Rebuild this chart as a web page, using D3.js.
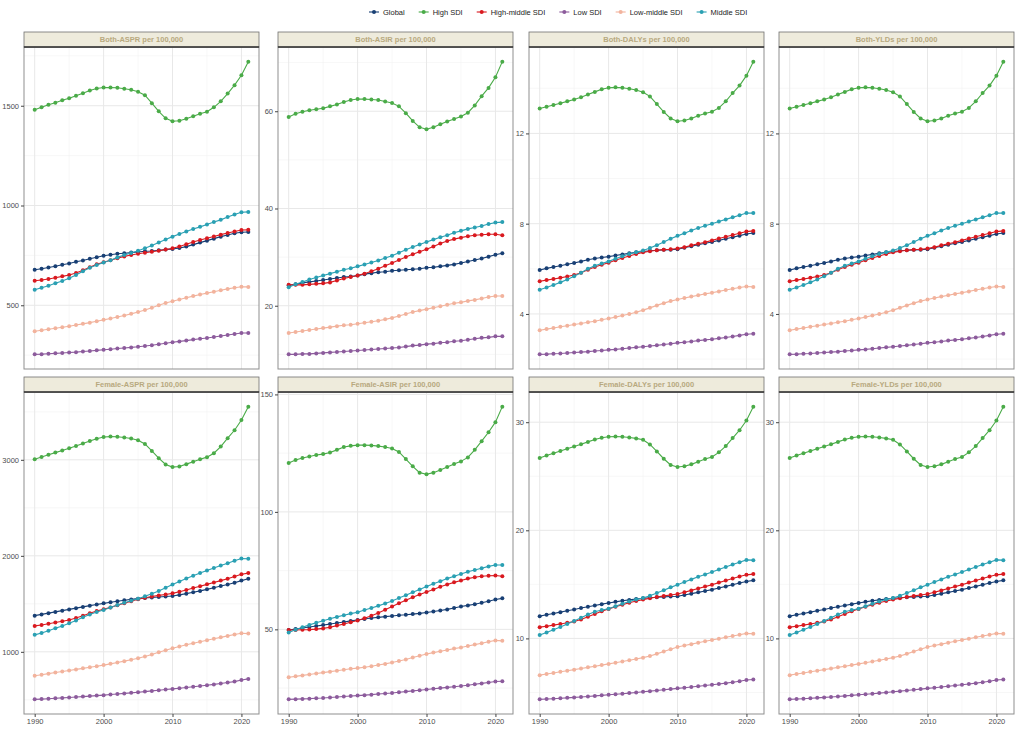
<!DOCTYPE html>
<html>
<head>
<meta charset="utf-8">
<script src="https://cdn.jsdelivr.net/npm/d3@7"></script>
<style>
  body { margin: 0; background: #fff; }
  svg text { font-family: "Liberation Sans Narrow", "Liberation Sans", Arial, sans-serif; }
</style>
</head>
<body>
<div id="vis"></div>
<script>
// years on the x axis
var years = [1990, 1991, 1992, 1993, 1994, 1995, 1996, 1997, 1998, 1999,
  2000, 2001, 2002, 2003, 2004, 2005, 2006, 2007, 2008, 2009,
  2010, 2011, 2012, 2013, 2014, 2015, 2016, 2017, 2018, 2019, 2020, 2021];

var seriesNames = ['Global', 'High SDI', 'High-middle SDI', 'Low SDI', 'Low-middle SDI', 'Middle SDI'];

var panelTitles = ['Both-ASPR per 100,000', 'Both-ASIR per 100,000', 'Both-DALYs per 100,000', 'Both-YLDs per 100,000',
  'Female-ASPR per 100,000', 'Female-ASIR per 100,000', 'Female-DALYs per 100,000', 'Female-YLDs per 100,000'];

var xTicks = [1990, 2000, 2010, 2020];

// major y breaks of each panel
var yTicks = [[500, 1000, 1500], [20, 40, 60], [4, 8, 12], [4, 8, 12],
  [1000, 2000, 3000], [50, 100, 150], [10, 20, 30], [10, 20, 30]];

// series order: Global, High SDI, High-middle SDI, Low SDI, Low-middle SDI, Middle SDI
var bothASPR = [
  [678, 683, 689, 696, 703, 709, 718, 724, 733, 741, 748, 753, 758, 761, 764, 767, 771, 772, 776, 779, 782, 787, 794, 804, 814, 824, 834, 844, 852, 861, 866, 867],
  [1480, 1492, 1505, 1515, 1527, 1538, 1550, 1563, 1576, 1586, 1591, 1591, 1590, 1585, 1580, 1570, 1553, 1513, 1472, 1437, 1422, 1425, 1435, 1447, 1460, 1470, 1492, 1522, 1561, 1603, 1653, 1721],
  [623, 627, 632, 638, 645, 652, 662, 675, 690, 705, 716, 726, 736, 745, 752, 758, 763, 768, 773, 779, 786, 795, 806, 817, 827, 836, 845, 854, 862, 870, 877, 878],
  [254, 255, 257, 259, 261, 263, 265, 268, 271, 274, 277, 280, 283, 286, 289, 292, 296, 300, 305, 310, 315, 319, 323, 328, 332, 336, 341, 346, 351, 356, 361, 361],
  [370, 375, 380, 385, 390, 395, 401, 407, 413, 420, 427, 434, 441, 449, 457, 466, 476, 488, 500, 511, 520, 529, 538, 546, 554, 561, 568, 575, 582, 588, 593, 592],
  [578, 588, 598, 610, 622, 636, 652, 670, 688, 702, 714, 726, 740, 752, 762, 773, 786, 800, 815, 830, 844, 857, 870, 882, 893, 905, 917, 928, 942, 955, 966, 968]
];

var bothASIR = [
  [24.2, 24.4, 24.7, 24.9, 25.1, 25.3, 25.5, 25.7, 25.9, 26.0, 26.2, 26.5, 26.7, 26.9, 27.0, 27.2, 27.3, 27.4, 27.5, 27.6, 27.8, 27.9, 28.1, 28.3, 28.5, 28.8, 29.1, 29.4, 29.7, 30.1, 30.5, 30.8],
  [58.8, 59.5, 59.9, 60.2, 60.4, 60.6, 61.0, 61.4, 61.9, 62.3, 62.5, 62.5, 62.4, 62.3, 62.0, 61.7, 61.0, 59.6, 58.0, 56.7, 56.3, 56.7, 57.3, 57.9, 58.4, 58.9, 59.7, 61.2, 63.1, 64.8, 67.0, 70.2],
  [24.3, 24.3, 24.3, 24.4, 24.5, 24.6, 24.8, 25.2, 25.6, 25.9, 26.2, 26.6, 27.1, 27.6, 28.2, 28.8, 29.4, 30.0, 30.6, 31.1, 31.6, 32.2, 32.8, 33.3, 33.7, 34.0, 34.3, 34.5, 34.6, 34.7, 34.7, 34.5],
  [10.0, 10.0, 10.1, 10.1, 10.2, 10.3, 10.4, 10.5, 10.6, 10.7, 10.8, 10.9, 11.0, 11.1, 11.2, 11.3, 11.4, 11.6, 11.8, 11.9, 12.1, 12.2, 12.4, 12.5, 12.7, 12.8, 13.0, 13.2, 13.4, 13.5, 13.7, 13.7],
  [14.4, 14.6, 14.8, 15.0, 15.2, 15.4, 15.6, 15.8, 16.0, 16.1, 16.3, 16.5, 16.7, 16.9, 17.2, 17.5, 17.9, 18.3, 18.7, 19.0, 19.3, 19.6, 19.9, 20.2, 20.5, 20.7, 21.0, 21.2, 21.5, 21.8, 22.0, 22.0],
  [23.8, 24.4, 24.9, 25.4, 25.8, 26.2, 26.6, 27.0, 27.4, 27.7, 28.1, 28.5, 28.9, 29.3, 29.8, 30.3, 30.9, 31.5, 32.1, 32.6, 33.1, 33.6, 34.1, 34.5, 35.0, 35.4, 35.8, 36.1, 36.4, 36.8, 37.1, 37.2]
];

// DALYs and YLDs read the same in the picture
var bothDALY = [
  [5.95, 6.02, 6.08, 6.14, 6.20, 6.26, 6.33, 6.40, 6.46, 6.50, 6.54, 6.59, 6.64, 6.69, 6.73, 6.77, 6.80, 6.82, 6.84, 6.85, 6.87, 6.93, 7.00, 7.07, 7.13, 7.19, 7.26, 7.33, 7.40, 7.47, 7.54, 7.59],
  [13.10, 13.18, 13.26, 13.34, 13.42, 13.50, 13.60, 13.72, 13.84, 13.96, 14.02, 14.04, 14.02, 13.98, 13.92, 13.82, 13.64, 13.30, 12.95, 12.66, 12.54, 12.57, 12.66, 12.78, 12.88, 12.96, 13.13, 13.42, 13.79, 14.12, 14.56, 15.18],
  [5.45, 5.50, 5.55, 5.60, 5.66, 5.73, 5.83, 5.96, 6.08, 6.18, 6.27, 6.38, 6.48, 6.57, 6.66, 6.73, 6.78, 6.82, 6.85, 6.87, 6.90, 6.96, 7.04, 7.11, 7.18, 7.26, 7.34, 7.42, 7.50, 7.58, 7.65, 7.68],
  [2.21, 2.22, 2.24, 2.25, 2.27, 2.29, 2.31, 2.33, 2.36, 2.38, 2.41, 2.43, 2.46, 2.49, 2.52, 2.55, 2.58, 2.61, 2.65, 2.68, 2.72, 2.75, 2.78, 2.82, 2.85, 2.88, 2.92, 2.96, 3.00, 3.05, 3.10, 3.12],
  [3.28, 3.33, 3.38, 3.43, 3.48, 3.53, 3.58, 3.63, 3.68, 3.74, 3.80, 3.86, 3.93, 4.00, 4.08, 4.17, 4.27, 4.38, 4.48, 4.57, 4.64, 4.71, 4.77, 4.83, 4.89, 4.94, 5.00, 5.06, 5.12, 5.17, 5.22, 5.20],
  [5.07, 5.17, 5.28, 5.40, 5.53, 5.67, 5.83, 6.00, 6.14, 6.24, 6.33, 6.45, 6.56, 6.66, 6.73, 6.81, 6.92, 7.05, 7.19, 7.33, 7.46, 7.58, 7.70, 7.81, 7.91, 8.00, 8.10, 8.19, 8.28, 8.37, 8.47, 8.47]
];

var femaleASPR = [
  [1377, 1390, 1403, 1416, 1429, 1442, 1455, 1468, 1481, 1493, 1505, 1516, 1527, 1537, 1546, 1554, 1560, 1566, 1571, 1576, 1581, 1593, 1606, 1620, 1635, 1651, 1668, 1685, 1702, 1720, 1742, 1761],
  [3007, 3030, 3053, 3075, 3098, 3121, 3145, 3170, 3196, 3220, 3237, 3242, 3240, 3232, 3222, 3203, 3166, 3093, 3017, 2952, 2924, 2931, 2955, 2979, 3007, 3028, 3069, 3138, 3225, 3308, 3415, 3554],
  [1270, 1280, 1292, 1305, 1318, 1332, 1352, 1377, 1403, 1425, 1443, 1463, 1485, 1506, 1527, 1547, 1563, 1576, 1588, 1598, 1609, 1626, 1645, 1664, 1684, 1703, 1722, 1742, 1762, 1785, 1808, 1820],
  [505, 508, 512, 516, 520, 524, 529, 534, 539, 544, 549, 555, 561, 567, 573, 579, 586, 593, 600, 607, 614, 621, 628, 636, 644, 652, 661, 670, 680, 690, 706, 718],
  [751, 762, 773, 784, 795, 806, 817, 828, 839, 850, 862, 875, 889, 903, 918, 933, 951, 972, 995, 1017, 1038, 1056, 1073, 1089, 1105, 1121, 1136, 1151, 1166, 1181, 1194, 1190],
  [1177, 1197, 1220, 1245, 1270, 1297, 1327, 1360, 1390, 1414, 1436, 1461, 1487, 1511, 1533, 1554, 1579, 1606, 1634, 1668, 1702, 1733, 1763, 1792, 1821, 1848, 1874, 1899, 1923, 1948, 1972, 1969]
];

var femaleASIR = [
  [49.7, 50.1, 50.6, 51.0, 51.4, 51.8, 52.3, 52.7, 53.1, 53.6, 54.0, 54.4, 54.8, 55.1, 55.4, 55.7, 56.0, 56.2, 56.5, 56.8, 57.2, 57.6, 58.0, 58.5, 59.1, 59.7, 60.2, 60.7, 61.3, 62.0, 62.7, 63.2],
  [120.8, 122.1, 122.9, 123.6, 124.2, 124.6, 125.3, 126.4, 127.6, 128.1, 128.4, 128.4, 128.3, 128.0, 127.6, 127.0, 125.5, 122.5, 119.4, 116.7, 116.0, 116.7, 117.8, 119.1, 120.4, 121.5, 123.2, 126.4, 130.1, 133.9, 138.2, 144.8],
  [49.7, 49.7, 49.8, 49.9, 50.1, 50.4, 50.9, 51.6, 52.3, 53.0, 53.8, 54.7, 55.8, 57.0, 58.3, 59.7, 61.1, 62.4, 63.7, 64.8, 65.9, 67.0, 68.1, 69.1, 70.0, 70.8, 71.6, 72.2, 72.6, 72.8, 72.9, 72.6],
  [20.2, 20.3, 20.4, 20.5, 20.7, 20.8, 21.0, 21.2, 21.4, 21.6, 21.8, 22.0, 22.2, 22.5, 22.7, 22.9, 23.2, 23.5, 23.8, 24.1, 24.4, 24.7, 25.0, 25.3, 25.6, 25.9, 26.2, 26.6, 27.0, 27.4, 27.8, 27.9],
  [29.6, 30.0, 30.4, 30.8, 31.2, 31.6, 32.0, 32.4, 32.8, 33.2, 33.5, 33.9, 34.3, 34.8, 35.3, 35.9, 36.5, 37.2, 38.0, 38.8, 39.5, 40.1, 40.7, 41.2, 41.8, 42.3, 42.9, 43.5, 44.1, 44.7, 45.3, 45.1],
  [48.7, 49.8, 50.9, 51.9, 52.8, 53.7, 54.5, 55.3, 56.0, 56.7, 57.3, 58.2, 59.1, 60.0, 61.0, 62.1, 63.3, 64.5, 65.8, 67.0, 68.2, 69.4, 70.5, 71.6, 72.6, 73.6, 74.5, 75.3, 76.0, 76.8, 77.4, 77.4]
];

var femaleDALY = [
  [12.06, 12.18, 12.31, 12.43, 12.56, 12.68, 12.81, 12.93, 13.05, 13.17, 13.28, 13.38, 13.48, 13.56, 13.64, 13.71, 13.76, 13.80, 13.84, 13.87, 13.90, 14.02, 14.14, 14.26, 14.38, 14.51, 14.66, 14.81, 14.96, 15.12, 15.27, 15.37],
  [26.69, 26.92, 27.13, 27.33, 27.55, 27.76, 27.96, 28.18, 28.40, 28.56, 28.65, 28.68, 28.65, 28.59, 28.50, 28.37, 27.94, 27.30, 26.62, 26.04, 25.86, 25.92, 26.10, 26.35, 26.59, 26.78, 27.21, 27.79, 28.53, 29.26, 30.15, 31.44],
  [11.04, 11.13, 11.23, 11.33, 11.44, 11.56, 11.75, 12.00, 12.26, 12.51, 12.73, 12.93, 13.12, 13.30, 13.46, 13.59, 13.72, 13.83, 13.93, 14.02, 14.11, 14.27, 14.44, 14.61, 14.79, 14.97, 15.16, 15.35, 15.54, 15.72, 15.88, 15.95],
  [4.36, 4.39, 4.42, 4.46, 4.50, 4.54, 4.58, 4.63, 4.68, 4.73, 4.78, 4.83, 4.88, 4.94, 5.00, 5.06, 5.12, 5.18, 5.25, 5.31, 5.38, 5.44, 5.50, 5.57, 5.64, 5.71, 5.78, 5.86, 5.94, 6.03, 6.15, 6.20],
  [6.60, 6.70, 6.80, 6.91, 7.01, 7.11, 7.22, 7.32, 7.42, 7.53, 7.64, 7.75, 7.86, 7.98, 8.10, 8.22, 8.38, 8.57, 8.78, 8.99, 9.20, 9.34, 9.47, 9.60, 9.73, 9.85, 9.97, 10.10, 10.22, 10.34, 10.46, 10.43],
  [10.31, 10.55, 10.80, 11.06, 11.33, 11.62, 11.92, 12.22, 12.47, 12.62, 12.75, 12.98, 13.21, 13.42, 13.59, 13.74, 13.95, 14.19, 14.46, 14.72, 14.97, 15.22, 15.46, 15.70, 15.92, 16.14, 16.38, 16.61, 16.83, 17.05, 17.26, 17.24]
];

var panelData = [bothASPR, bothASIR, bothDALY, bothDALY, femaleASPR, femaleASIR, femaleDALY, femaleDALY];

// ---- styles and layout ----
var colors = ['#183f74', '#4aab48', '#d9191f', '#8c5b9c', '#f2b39d', '#2aa0b3'];
var width = 1022, height = 732;
var colLeft = [24, 278, 529, 779];
var panelW = 235;
var rowTop = [32, 377];
var stripH = 15;
var plotH = 322;

var svg = d3.select('#vis').append('svg')
  .attr('width', width)
  .attr('height', height);

svg.append('rect').attr('width', width).attr('height', height).attr('fill', '#fff');

var xPad = (years[years.length - 1] - years[0]) * 0.05;

panelTitles.forEach(function (title, p) {
  var col = p % 4, row = Math.floor(p / 4);
  var left = colLeft[col];
  var top = rowTop[row] + stripH;
  var g = svg.append('g').attr('transform', 'translate(' + left + ',' + top + ')');

  var x = d3.scaleLinear()
    .domain([years[0] - xPad, years[years.length - 1] + xPad])
    .range([0, panelW]);

  var all = d3.merge(panelData[p]);
  var ext = d3.extent(all);
  var yPad = (ext[1] - ext[0]) * 0.05;
  var y = d3.scaleLinear()
    .domain([ext[0] - yPad, ext[1] + yPad])
    .range([plotH, 0]);

  var yt = yTicks[p];
  var step = yt[1] - yt[0];
  var yMinor = [];
  for (var v = yt[0] - step / 2; v <= y.domain()[1]; v += step) {
    if (v >= y.domain()[0] && yt.indexOf(v) < 0) yMinor.push(v);
  }
  var xMinor = [1995, 2005, 2015];

  // grid: minor then major
  g.selectAll('line.ymin').data(yMinor).enter().append('line')
    .attr('x1', 0).attr('x2', panelW)
    .attr('y1', d => y(d)).attr('y2', d => y(d))
    .attr('stroke', '#f2f2f2').attr('stroke-width', 0.6);
  g.selectAll('line.xmin').data(xMinor).enter().append('line')
    .attr('y1', 0).attr('y2', plotH)
    .attr('x1', d => x(d)).attr('x2', d => x(d))
    .attr('stroke', '#f2f2f2').attr('stroke-width', 0.6);
  g.selectAll('line.ymaj').data(yt).enter().append('line')
    .attr('x1', 0).attr('x2', panelW)
    .attr('y1', d => y(d)).attr('y2', d => y(d))
    .attr('stroke', '#e8e8e8').attr('stroke-width', 1);
  g.selectAll('line.xmaj').data(xTicks).enter().append('line')
    .attr('y1', 0).attr('y2', plotH)
    .attr('x1', d => x(d)).attr('x2', d => x(d))
    .attr('stroke', '#e8e8e8').attr('stroke-width', 1);

  // series
  var line = d3.line()
    .x((d, i) => x(years[i]))
    .y(d => y(d));

  panelData[p].forEach(function (vals, s) {
    g.append('path')
      .datum(vals)
      .attr('d', line)
      .attr('fill', 'none')
      .attr('stroke', colors[s])
      .attr('stroke-width', 1.1);
    g.selectAll('circle.s' + s)
      .data(vals).enter()
      .append('circle')
      .attr('cx', (d, i) => x(years[i]))
      .attr('cy', d => y(d))
      .attr('r', 2)
      .attr('fill', colors[s]);
  });

  // panel border
  g.append('rect')
    .attr('width', panelW).attr('height', plotH)
    .attr('fill', 'none')
    .attr('stroke', '#8f8f8f').attr('stroke-width', 1);

  // y axis
  var yAxis = d3.axisLeft(y).tickValues(yt).tickFormat(d => String(d)).tickSize(3).tickPadding(2);
  var ya = g.append('g').call(yAxis);
  ya.select('.domain').remove();
  ya.selectAll('line').attr('stroke', '#444');
  ya.selectAll('text').attr('font-size', 7.5).attr('fill', '#4d4d4d');

  // x axis only on the bottom row
  if (row === 1) {
    var xAxis = d3.axisBottom(x).tickValues(xTicks).tickFormat(d => String(d)).tickSize(3).tickPadding(2);
    var xa = g.append('g').attr('transform', 'translate(0,' + plotH + ')').call(xAxis);
    xa.select('.domain').remove();
    xa.selectAll('line').attr('stroke', '#444');
    xa.selectAll('text').attr('font-size', 7.5).attr('fill', '#4d4d4d');
  }

  // strip
  var sg = svg.append('g').attr('transform', 'translate(' + left + ',' + rowTop[row] + ')');
  sg.append('rect')
    .attr('width', panelW).attr('height', stripH)
    .attr('fill', '#eeebdc')
    .attr('stroke', '#6f6f6f').attr('stroke-width', 0.8);
  sg.append('line')
    .attr('x1', 0).attr('x2', panelW)
    .attr('y1', stripH).attr('y2', stripH)
    .attr('stroke', '#333').attr('stroke-width', 1.4);
  sg.append('text')
    .attr('x', panelW / 2).attr('y', stripH / 2 + 2.7)
    .attr('text-anchor', 'middle')
    .attr('font-size', 7.5)
    .attr('font-weight', 'bold')
    .attr('fill', '#b8a97f')
    .text(title);
});

// legend along the top
var legend = svg.append('g').attr('transform', 'translate(0,12)');
var lx = 369;
seriesNames.forEach(function (name, s) {
  var item = legend.append('g').attr('transform', 'translate(' + lx + ',0)');
  item.append('line').attr('x1', 0).attr('x2', 10).attr('y1', 0).attr('y2', 0)
    .attr('stroke', colors[s]).attr('stroke-width', 1.1);
  item.append('circle').attr('cx', 5).attr('cy', 0).attr('r', 2).attr('fill', colors[s]);
  var t = item.append('text').attr('x', 14).attr('y', 2.6)
    .attr('font-size', 7.5).attr('fill', '#222').text(name);
  lx += 14 + t.node().getComputedTextLength() + 14;
});
</script>
</body>
</html>
